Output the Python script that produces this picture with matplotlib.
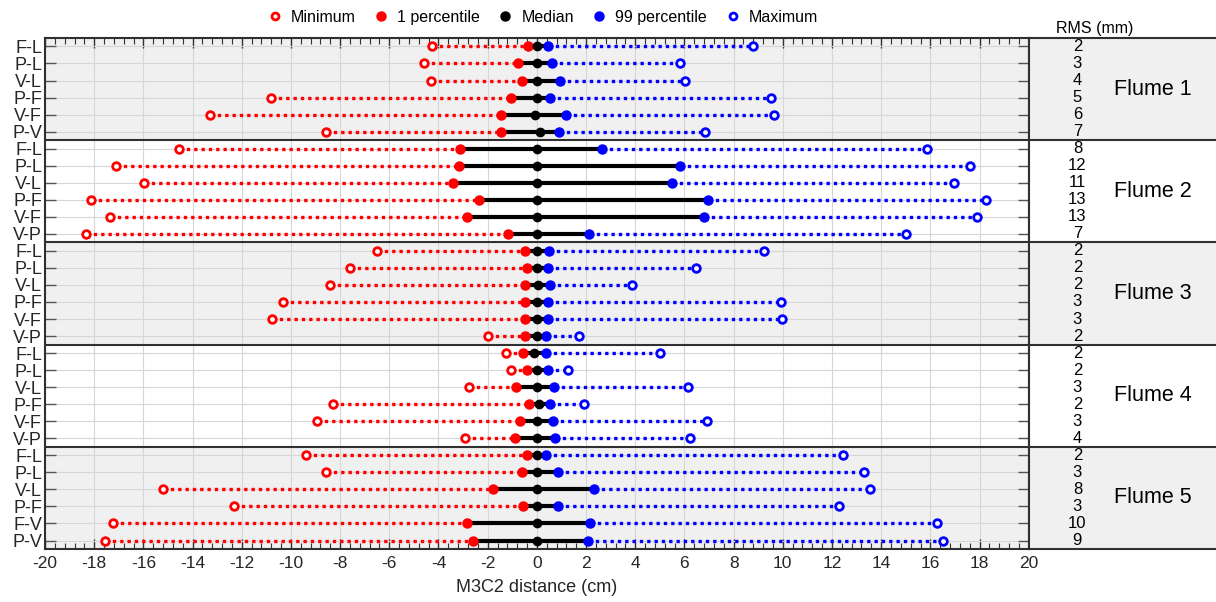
import numpy as np
import matplotlib
matplotlib.use("Agg")
import matplotlib.pyplot as plt
from matplotlib.ticker import MultipleLocator
from matplotlib.lines import Line2D

plt.rcParams['font.family'] = ['Liberation Sans', 'DejaVu Sans']
plt.rcParams['axes.unicode_minus'] = False

# data, one row per comparison, top to bottom
flumes = ["Flume 1", "Flume 2", "Flume 3", "Flume 4", "Flume 5"]
labels = ["F-L", "P-L", "V-L", "P-F", "V-F", "P-V",
          "F-L", "P-L", "V-L", "P-F", "V-F", "V-P",
          "F-L", "P-L", "V-L", "P-F", "V-F", "V-P",
          "F-L", "P-L", "V-L", "P-F", "V-F", "V-P",
          "F-L", "P-L", "V-L", "P-F", "F-V", "P-V"]
rms = [2, 3, 4, 5, 6, 7,
       8, 12, 11, 13, 13, 7,
       2, 2, 2, 3, 3, 2,
       2, 2, 3, 2, 3, 4,
       2, 3, 8, 3, 10, 9]
minimum = [-4.26, -4.6, -4.31, -10.81, -13.3, -8.59,
           -14.56, -17.13, -15.96, -18.12, -17.35, -18.33,
           -6.52, -7.61, -8.43, -10.31, -10.77, -1.98,
           -1.24, -1.06, -2.77, -8.29, -8.96, -2.94,
           -9.4, -8.59, -15.22, -12.32, -17.22, -17.55]
p01 = [-0.37, -0.76, -0.59, -1.06, -1.45, -1.46,
       -3.11, -3.17, -3.39, -2.37, -2.85, -1.18,
       -0.48, -0.4, -0.47, -0.48, -0.48, -0.47,
       -0.55, -0.4, -0.86, -0.31, -0.7, -0.89,
       -0.4, -0.62, -1.79, -0.55, -2.85, -2.6]
median = [0.0, 0.0, 0.0, 0.0, -0.08, 0.14,
          0.0, 0.0, 0.0, 0.0, 0.0, 0.0,
          0.0, 0.0, 0.04, 0.0, 0.0, 0.0,
          -0.1, 0.0, 0.0, 0.08, 0.0, 0.0,
          0.0, 0.0, 0.0, 0.0, 0.0, 0.0]
p99 = [0.45, 0.6, 0.96, 0.54, 1.18, 0.89,
       2.66, 5.8, 5.5, 6.97, 6.8, 2.12,
       0.5, 0.47, 0.54, 0.47, 0.47, 0.39,
       0.36, 0.45, 0.7, 0.54, 0.65, 0.73,
       0.36, 0.85, 2.31, 0.84, 2.17, 2.09]
maximum = [8.77, 5.8, 6.04, 9.51, 9.65, 6.85,
           15.86, 17.62, 16.95, 18.28, 17.9, 15.0,
           9.25, 6.49, 3.85, 9.94, 9.98, 1.7,
           4.99, 1.27, 6.13, 1.9, 6.9, 6.23,
           12.44, 13.31, 13.55, 12.29, 16.26, 16.5]

n = len(labels)
per_group = 6
y = np.arange(n)

fig = plt.figure(figsize=(12.16, 6.02), dpi=100)
ax = fig.add_axes([0.037, 0.088, 0.809, 0.849])
axr = fig.add_axes([0.846, 0.088, 0.16, 0.849])

edge = '#303030'
shade = '#f0f0f0'

for a in (ax, axr):
    a.set_ylim(n - 0.5, -0.5)
    for g in range(len(flumes)):
        if g % 2 == 0:
            a.axhspan(g * per_group - 0.5, (g + 1) * per_group - 0.5, color=shade, zorder=0, lw=0)
        if g > 0:
            a.axhline(g * per_group - 0.5, color=edge, lw=1.5, zorder=5)
    for s in a.spines.values():
        s.set_color(edge)
        s.set_linewidth(1.5)

# main panel
ax.set_xlim(-20, 20)
ax.set_axisbelow(True)
ax.xaxis.set_major_locator(MultipleLocator(2))
ax.xaxis.set_minor_locator(MultipleLocator(0.4))
ax.set_yticks(y)
ax.set_yticklabels(labels, fontsize=13, color='#262626')
ax.tick_params(axis='x', which='major', direction='in', top=True, length=7, width=1, color=edge,
               labelsize=12.5, labelcolor='#262626', pad=5)
ax.tick_params(axis='x', which='minor', direction='in', top=True, length=4, width=0.8, color=edge)
ax.tick_params(axis='y', which='major', direction='in', right=True, length=8, width=1, color='#555555', pad=2)
ax.grid(True, which='major', color='#d6d6d6', lw=0.8)
ax.set_xlabel("M3C2 distance (cm)", fontsize=13, labelpad=6, color='#262626')

for i in range(n):
    ax.plot([minimum[i], p01[i]], [y[i], y[i]], color='red', lw=2.4, ls=(0, (1, 1.2)), zorder=2)
    ax.plot([p99[i], maximum[i]], [y[i], y[i]], color='blue', lw=2.4, ls=(0, (1, 1.2)), zorder=2)
    ax.plot([p01[i], p99[i]], [y[i], y[i]], color='black', lw=3, zorder=3)

ax.plot(minimum, y, 'o', ls='none', ms=5.5, mfc='white', mec='red', mew=2, zorder=4)
ax.plot(maximum, y, 'o', ls='none', ms=5.5, mfc='white', mec='blue', mew=2, zorder=4)
ax.plot(p01, y, 'o', ls='none', ms=6.5, color='red', zorder=4)
ax.plot(p99, y, 'o', ls='none', ms=6.5, color='blue', zorder=4)
ax.plot(median, y, 'o', ls='none', ms=6, color='black', zorder=4)

# right panel with RMS and flume names
axr.set_xlim(0, 1)
axr.set_xticks([])
axr.set_yticks([])
for i in range(n):
    axr.text(0.25, y[i], str(rms[i]), ha='center', va='center', fontsize=12)
for g, name in enumerate(flumes):
    axr.text(0.64, g * per_group + 2.5, name, ha='center', va='center', fontsize=15.5)
axr.text(0.34, -0.6, "RMS (mm)", ha='center', va='bottom', fontsize=11.5)

handles = [
    Line2D([], [], marker='o', ls='none', ms=5, mfc='white', mec='red', mew=2),
    Line2D([], [], marker='o', ls='none', ms=6.5, color='red'),
    Line2D([], [], marker='o', ls='none', ms=6.5, color='black'),
    Line2D([], [], marker='o', ls='none', ms=6.5, color='blue'),
    Line2D([], [], marker='o', ls='none', ms=5, mfc='white', mec='blue', mew=2),
]
fig.legend(handles, ["Minimum", "1 percentile", "Median", "99 percentile", "Maximum"],
           loc='center', bbox_to_anchor=(0.446, 0.971), ncol=5, frameon=False,
           fontsize=11.5, handlelength=1, handletextpad=0.5, columnspacing=1.1)

fig.savefig("out.png", dpi=100)
